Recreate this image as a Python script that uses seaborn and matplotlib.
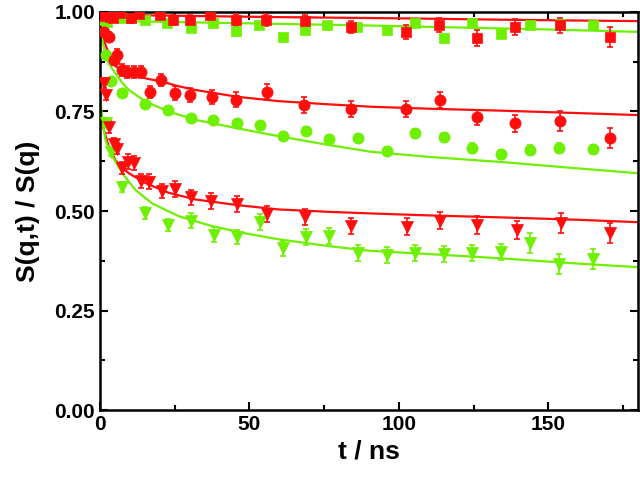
import matplotlib
matplotlib.use('Agg')
import matplotlib.pyplot as plt
import seaborn as sns
from matplotlib.ticker import MultipleLocator, FormatStrFormatter

# data
# red = series A, green = series B ; squares / circles / triangles = three q values
t_rs = [0.5, 3.3, 4.5, 6.7, 10.5, 13, 20, 24.5, 30, 37, 45.5, 55.5, 68.5, 84, 102.5, 113.5, 126, 139, 154, 170.5]
y_rs = [0.99, 0.988, 0.984, 0.997, 0.984, 0.996, 0.992, 0.98, 0.98, 0.992, 0.98, 0.98, 0.978, 0.963, 0.95, 0.967, 0.934, 0.963, 0.966, 0.936]
e_rs = [0.008, 0.01, 0.01, 0.008, 0.012, 0.008, 0.01, 0.012, 0.012, 0.012, 0.015, 0.015, 0.015, 0.015, 0.018, 0.018, 0.02, 0.02, 0.02, 0.025]

t_rc = [1.3, 3, 4.7, 5.8, 7.5, 9.2, 11.4, 13.6, 16.7, 20.3, 25, 30.3, 37.6, 45.7, 56, 68.3, 84, 102.4, 113.6, 126, 139, 154, 170.6]
y_rc = [0.95, 0.938, 0.879, 0.892, 0.854, 0.85, 0.85, 0.85, 0.80, 0.83, 0.796, 0.791, 0.787, 0.78, 0.80, 0.766, 0.756, 0.756, 0.78, 0.735, 0.72, 0.725, 0.683]
e_rc = [0.012, 0.012, 0.012, 0.015, 0.015, 0.015, 0.015, 0.015, 0.015, 0.015, 0.018, 0.018, 0.018, 0.018, 0.018, 0.02, 0.02, 0.02, 0.02, 0.02, 0.022, 0.025, 0.025]

t_rt = [1.3, 2, 3, 4.7, 5.8, 7.5, 9.5, 11.4, 13.6, 16.6, 20.7, 25, 30.6, 37.3, 45.9, 56, 68.5, 84, 102.7, 113.8, 126.1, 139.5, 154.3, 170.6]
y_rt = [0.821, 0.791, 0.71, 0.668, 0.657, 0.607, 0.624, 0.62, 0.576, 0.574, 0.551, 0.555, 0.534, 0.525, 0.518, 0.492, 0.486, 0.462, 0.461, 0.476, 0.465, 0.452, 0.469, 0.444]
e_rt = [0.012, 0.012, 0.015, 0.015, 0.015, 0.015, 0.018, 0.018, 0.018, 0.018, 0.018, 0.02, 0.02, 0.02, 0.02, 0.02, 0.02, 0.02, 0.022, 0.022, 0.022, 0.022, 0.025, 0.025]

t_gs = [0.8, 2.5, 7.3, 15, 22.3, 30.6, 37.8, 45.5, 53.3, 61.1, 68.6, 76.1, 86.1, 95.9, 105.3, 115, 124.5, 134, 143.8, 153.8, 164.9]
y_gs = [0.98, 0.976, 0.984, 0.98, 0.972, 0.959, 0.972, 0.952, 0.967, 0.938, 0.955, 0.967, 0.961, 0.955, 0.972, 0.934, 0.972, 0.944, 0.966, 0.969, 0.966]

t_gc = [1.9, 3.6, 7.5, 15.2, 22.8, 30.6, 38, 45.9, 53.5, 61.3, 68.9, 76.7, 86.3, 95.9, 105.5, 115.1, 124.6, 134.2, 143.9, 153.6, 165]
y_gc = [0.892, 0.827, 0.797, 0.769, 0.755, 0.733, 0.729, 0.72, 0.716, 0.689, 0.701, 0.681, 0.683, 0.651, 0.695, 0.685, 0.658, 0.642, 0.653, 0.658, 0.655]
e_gc = [0.008, 0.008, 0.008, 0.008, 0.008, 0.008, 0.008, 0.008, 0.008, 0.01, 0.01, 0.01, 0.01, 0.01, 0.012, 0.012, 0.012, 0.012, 0.012, 0.012, 0.012]

t_gt = [1.9, 3.6, 7.5, 15.2, 22.8, 30.6, 38.3, 45.9, 53.6, 61.4, 68.9, 76.7, 86.3, 95.9, 105.4, 115.1, 124.6, 134.2, 143.9, 153.6, 164.9]
y_gt = [0.722, 0.649, 0.561, 0.496, 0.465, 0.476, 0.441, 0.434, 0.473, 0.406, 0.435, 0.437, 0.395, 0.389, 0.395, 0.392, 0.394, 0.398, 0.419, 0.367, 0.379]
e_gt = [0.012, 0.012, 0.012, 0.015, 0.015, 0.018, 0.018, 0.018, 0.02, 0.02, 0.02, 0.02, 0.02, 0.02, 0.02, 0.02, 0.02, 0.02, 0.025, 0.025, 0.025]

# fit curves, read at a few times
tf_rs = [0, 2, 10, 30, 60, 100, 140, 180]
yf_rs = [1.0, 0.995, 0.992, 0.99, 0.987, 0.984, 0.98, 0.977]
tf_gs = [0, 0.5, 1, 2, 5, 15, 30, 60, 90, 120, 150, 180]
yf_gs = [1.0, 0.99, 0.985, 0.981, 0.978, 0.976, 0.974, 0.97, 0.966, 0.961, 0.956, 0.95]
tf_rc = [0, 0.3, 0.8, 1.5, 2.5, 3.6, 5.2, 7.5, 11.9, 16, 20.8, 26, 32, 45.9, 59.8, 76.5, 90.5, 110, 134.5, 160, 180]
yf_rc = [0.99, 0.975, 0.946, 0.925, 0.905, 0.888, 0.864, 0.852, 0.84, 0.832, 0.825, 0.814, 0.804, 0.787, 0.776, 0.768, 0.762, 0.757, 0.752, 0.746, 0.741]
tf_gc = [0, 0.3, 0.8, 1.9, 3, 5.2, 7.5, 9.7, 15.3, 23, 32, 45.9, 59.8, 76.5, 90.5, 110, 134.5, 160, 180]
yf_gc = [0.99, 0.96, 0.93, 0.892, 0.87, 0.846, 0.822, 0.804, 0.775, 0.75, 0.729, 0.708, 0.688, 0.666, 0.649, 0.636, 0.623, 0.607, 0.595]
tf_rt = [0, 0.3, 0.8, 1.5, 3, 5.2, 7.5, 9.7, 15.3, 23, 32, 45.9, 59.8, 76.5, 90.5, 110, 134.5, 160, 180]
yf_rt = [0.86, 0.76, 0.72, 0.70, 0.662, 0.628, 0.608, 0.595, 0.57, 0.546, 0.529, 0.515, 0.504, 0.498, 0.494, 0.489, 0.484, 0.478, 0.472]
tf_gt = [0, 0.3, 0.8, 1.9, 3.6, 7.5, 11.9, 17.5, 26.4, 37.6, 48.7, 59.8, 76.5, 90.5, 110, 134.5, 160, 180]
yf_gt = [0.82, 0.77, 0.73, 0.678, 0.645, 0.595, 0.553, 0.519, 0.487, 0.462, 0.444, 0.429, 0.412, 0.40, 0.392, 0.381, 0.368, 0.359]

RED = '#ff0d0d'
GREEN = '#6ef000'

sns.set_style('ticks')
plt.rcParams['font.family'] = ['Liberation Sans', 'DejaVu Sans']
plt.rcParams['font.weight'] = 'bold'
for key in ['text.color', 'axes.labelcolor', 'xtick.color', 'ytick.color', 'axes.edgecolor']:
    plt.rcParams[key] = 'black'

fig, ax = plt.subplots(figsize=(6.4, 4.78), dpi=100)
fig.subplots_adjust(left=0.156, right=0.997, bottom=0.142, top=0.975)

# fitted curves
for tf, yf, c in [(tf_rs, yf_rs, RED), (tf_gs, yf_gs, GREEN), (tf_rc, yf_rc, RED),
                  (tf_gc, yf_gc, GREEN), (tf_rt, yf_rt, RED), (tf_gt, yf_gt, GREEN)]:
    sns.lineplot(x=tf, y=yf, color=c, lw=1.6, estimator=None, sort=False, ax=ax, zorder=2)

# error bars
for t, y, e, c in [(t_rs, y_rs, e_rs, RED), (t_rc, y_rc, e_rc, RED), (t_rt, y_rt, e_rt, RED),
                   (t_gc, y_gc, e_gc, GREEN), (t_gt, y_gt, e_gt, GREEN)]:
    ax.errorbar(t, y, yerr=e, fmt='none', ecolor=c, elinewidth=1.2, capsize=2.5, capthick=1.2, zorder=3)

# markers
for t, y, c, m, s in [(t_gs, y_gs, GREEN, 's', 55), (t_rs, y_rs, RED, 's', 55),
                      (t_gc, y_gc, GREEN, 'o', 65), (t_rc, y_rc, RED, 'o', 65),
                      (t_gt, y_gt, GREEN, 'v', 75), (t_rt, y_rt, RED, 'v', 75)]:
    sns.scatterplot(x=t, y=y, color=c, marker=m, s=s, edgecolor=c, linewidth=0.5, ax=ax, zorder=4)

ax.set_xlim(0, 180)
ax.set_ylim(0, 1.0)
ax.xaxis.set_major_locator(MultipleLocator(50))
ax.xaxis.set_minor_locator(MultipleLocator(25))
ax.yaxis.set_major_locator(MultipleLocator(0.25))
ax.yaxis.set_minor_locator(MultipleLocator(0.125))
ax.yaxis.set_major_formatter(FormatStrFormatter('%.2f'))
ax.tick_params(which='both', direction='in', top=True, right=True, width=1.5, labelsize=15)
ax.tick_params(which='major', length=6)
ax.tick_params(which='minor', length=3.5)
for sp in ax.spines.values():
    sp.set_linewidth(1.8)
    sp.set_visible(True)

ax.set_xlabel('t / ns', fontsize=19, fontweight='bold')
ax.set_ylabel('S(q,t) / S(q)', fontsize=19, fontweight='bold', labelpad=10)

plt.savefig('out.png', dpi=100)
